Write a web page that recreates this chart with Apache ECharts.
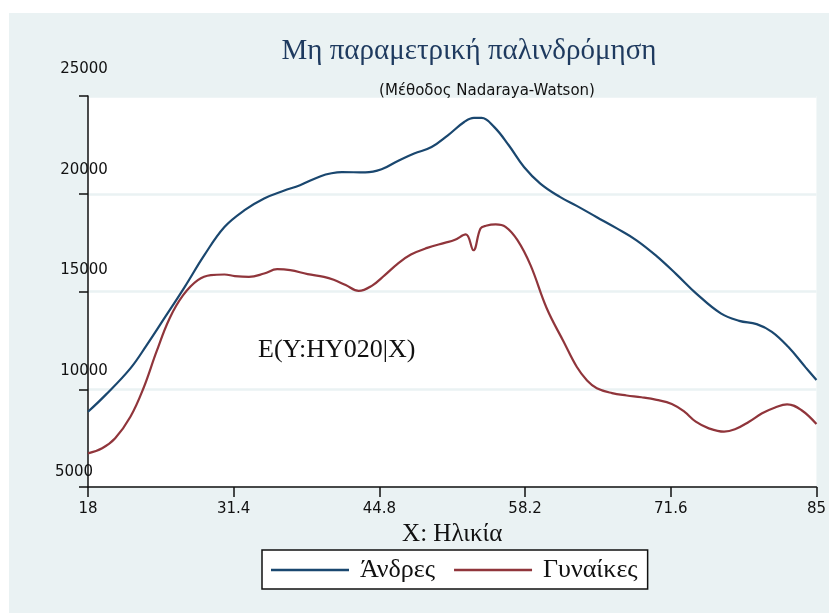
<!DOCTYPE html>
<html>
<head>
<meta charset="utf-8">
<script src="https://cdn.jsdelivr.net/npm/echarts@6/dist/echarts.min.js"></script>
<style>
  html, body { margin: 0; padding: 0; background: #fff; }
  #chart { width: 829px; height: 613px; }
</style>
</head>
<body>
<div id="chart"></div>
<script>
// Nadaraya-Watson estimates of HY020 by age, men and women
const menAge = [18, 19.6, 21.9, 23.4, 25.1, 26.9, 28.7, 30.55, 32.4, 34.2, 36.0, 37.5, 39.4, 40.4, 41.35, 43.5, 45.0, 46.5, 48.0, 49.6, 51.1, 52.6, 53.5, 54.2, 55.35, 56.7, 58.1, 59.6, 61.4, 62.95, 64.8, 66.6, 68.45, 70.3, 72.1, 73.9, 76.2, 77.9, 79.5, 80.9, 82.4, 84.0, 85];
const menValue = [8850, 9700, 11070, 12260, 13700, 15240, 16860, 18300, 19160, 19760, 20150, 20440, 20900, 21050, 21110, 21090, 21250, 21680, 22060, 22390, 22990, 23670, 23880, 23880, 23420, 22480, 21370, 20520, 19840, 19380, 18800, 18240, 17620, 16810, 15890, 14920, 13880, 13500, 13330, 12940, 12170, 11120, 10470];

const womenAge = [18, 19.3, 20.5, 21.9, 23.1, 24.3, 25.5, 26.75, 28.1, 29.3, 30.55, 31.5, 32.8, 34.2, 35.4, 36.6, 38.2, 39.7, 40.6, 41.7, 42.9, 44.1, 45.3, 46.5, 47.7, 49.2, 50.8, 51.7, 52.75, 53.45, 54.1, 54.6, 55.5, 56.4, 57.5, 58.7, 60.2, 61.75, 62.95, 63.9, 64.8, 66.2, 67.55, 68.9, 70.3, 71.7, 72.85, 73.9, 75.1, 76.5, 77.5, 78.8, 80.0, 81.2, 82.3, 83.6, 85];
const womenValue = [6720, 6980, 7490, 8590, 10050, 11920, 13620, 14810, 15580, 15840, 15870, 15790, 15750, 15920, 16140, 16090, 15890, 15750, 15600, 15330, 15030, 15290, 15840, 16430, 16890, 17230, 17490, 17630, 17920, 17110, 18220, 18360, 18430, 18310, 17630, 16350, 14130, 12430, 11150, 10450, 10050, 9800, 9680, 9590, 9460, 9250, 8850, 8340, 8000, 7830, 7950, 8340, 8770, 9070, 9230, 8940, 8220];

const xTicks = [18, 31.4, 44.8, 58.2, 71.6, 85];
const yTicks = [5000, 10000, 15000, 20000, 25000];

const seriesNames = ['Άνδρες', 'Γυναίκες'];
const titleText = 'Μη παραμετρική παλινδρόμηση';
const subtitleText = '(Μέθοδος Nadaraya-Watson)';
const xAxisTitle = 'X: Ηλικία';
const curveLabel = 'E(Y:HY020|X)';

const NAVY = '#1a476f';
const MAROON = '#90353b';
const PANEL = '#eaf2f3';
const SERIF = '"Liberation Serif", "DejaVu Serif", serif';
const SANS = '"DejaVu Sans", sans-serif';

const pairs = (xs, ys) => xs.map((x, i) => [x, ys[i]]);

const chart = echarts.init(document.getElementById('chart'), null, { renderer: 'canvas' });

chart.setOption({
  backgroundColor: PANEL,
  animation: false,
  title: [
    {
      text: titleText,
      left: 464, top: 32, textAlign: 'center',
      textStyle: { fontFamily: SERIF, fontSize: 29, fontWeight: 'normal', color: '#1e3a5f' }
    },
    {
      text: subtitleText,
      left: 482, top: 79, textAlign: 'center',
      textStyle: { fontFamily: SANS, fontSize: 15, fontWeight: 'normal', color: '#111' }
    }
  ],
  legend: {
    data: seriesNames,
    left: 262, top: 550,
    orient: 'horizontal',
    backgroundColor: '#fff',
    borderColor: '#111',
    borderWidth: 1.5,
    padding: [7, 10, 6, 9],
    itemWidth: 78, itemHeight: 14,
    itemGap: 19,
    icon: 'path://M0,0 L100,0 L100,3 L0,3 Z',
    textStyle: { fontFamily: SERIF, fontSize: 26, color: '#111', padding: [0, 0, 0, 6] }
  },
  grid: [
    { left: 88, right: 7.5, top: 96, bottom: 126, show: true, backgroundColor: '#fff', borderWidth: 0 },
    // label track for the value axis
    { left: 88, right: 7.5, top: 69, bottom: 141, show: false }
  ],
  xAxis: [
    {
      type: 'value', gridIndex: 0, min: 18, max: 85,
      name: xAxisTitle, nameLocation: 'middle', nameGap: 30,
      nameTextStyle: { fontFamily: SERIF, fontSize: 25, color: '#111' },
      axisLine: { show: true, lineStyle: { color: '#111', width: 1.5 } },
      axisTick: { show: true, length: 10, customValues: xTicks, lineStyle: { color: '#111', width: 1.5 } },
      axisLabel: {
        customValues: xTicks, margin: 15,
        fontFamily: SANS, fontSize: 15, color: '#111',
        formatter: v => String(v)
      },
      splitLine: { show: false }
    },
    { type: 'value', gridIndex: 1, min: 0, max: 1, show: false }
  ],
  yAxis: [
    {
      type: 'value', gridIndex: 0, min: 5000, max: 25000, interval: 5000,
      axisLine: { show: true, lineStyle: { color: '#111', width: 1.5 } },
      axisTick: { show: true, length: 9, lineStyle: { color: '#111', width: 1.5 } },
      axisLabel: { show: false },
      splitLine: { show: true, lineStyle: { color: PANEL, width: 2.5 } }
    },
    {
      type: 'value', gridIndex: 1, min: 5000, max: 25000, interval: 5000,
      axisLine: { show: false }, axisTick: { show: false }, splitLine: { show: false },
      axisLabel: {
        show: true, margin: 4, align: 'center',
        fontFamily: SANS, fontSize: 15, color: '#111',
        formatter: v => (String(v).length < 5 ? '{s|' + v + '}' : String(v)),
        rich: { s: { fontFamily: SANS, fontSize: 15, color: '#111', padding: [0, 20, 0, 0] } }
      }
    }
  ],
  graphic: [
    { type: 'rect', shape: { x: 0, y: 0, width: 829, height: 13 }, style: { fill: '#fff' }, z: 100 },
    { type: 'rect', shape: { x: 0, y: 0, width: 9, height: 613 }, style: { fill: '#fff' }, z: 100 },
    {
      type: 'text', x: 258, y: 350, z: 50,
      style: { text: curveLabel, fontFamily: SERIF, fontSize: 26, fill: '#111', verticalAlign: 'middle' }
    }
  ],
  series: [
    {
      name: seriesNames[0], type: 'line', xAxisIndex: 0, yAxisIndex: 0,
      data: pairs(menAge, menValue),
      symbol: 'none', smooth: 0.4,
      lineStyle: { color: NAVY, width: 2.2 }, itemStyle: { color: NAVY }
    },
    {
      name: seriesNames[1], type: 'line', xAxisIndex: 0, yAxisIndex: 0,
      data: pairs(womenAge, womenValue),
      symbol: 'none', smooth: 0.4,
      lineStyle: { color: MAROON, width: 2.2 }, itemStyle: { color: MAROON }
    }
  ]
});
</script>
</body>
</html>
